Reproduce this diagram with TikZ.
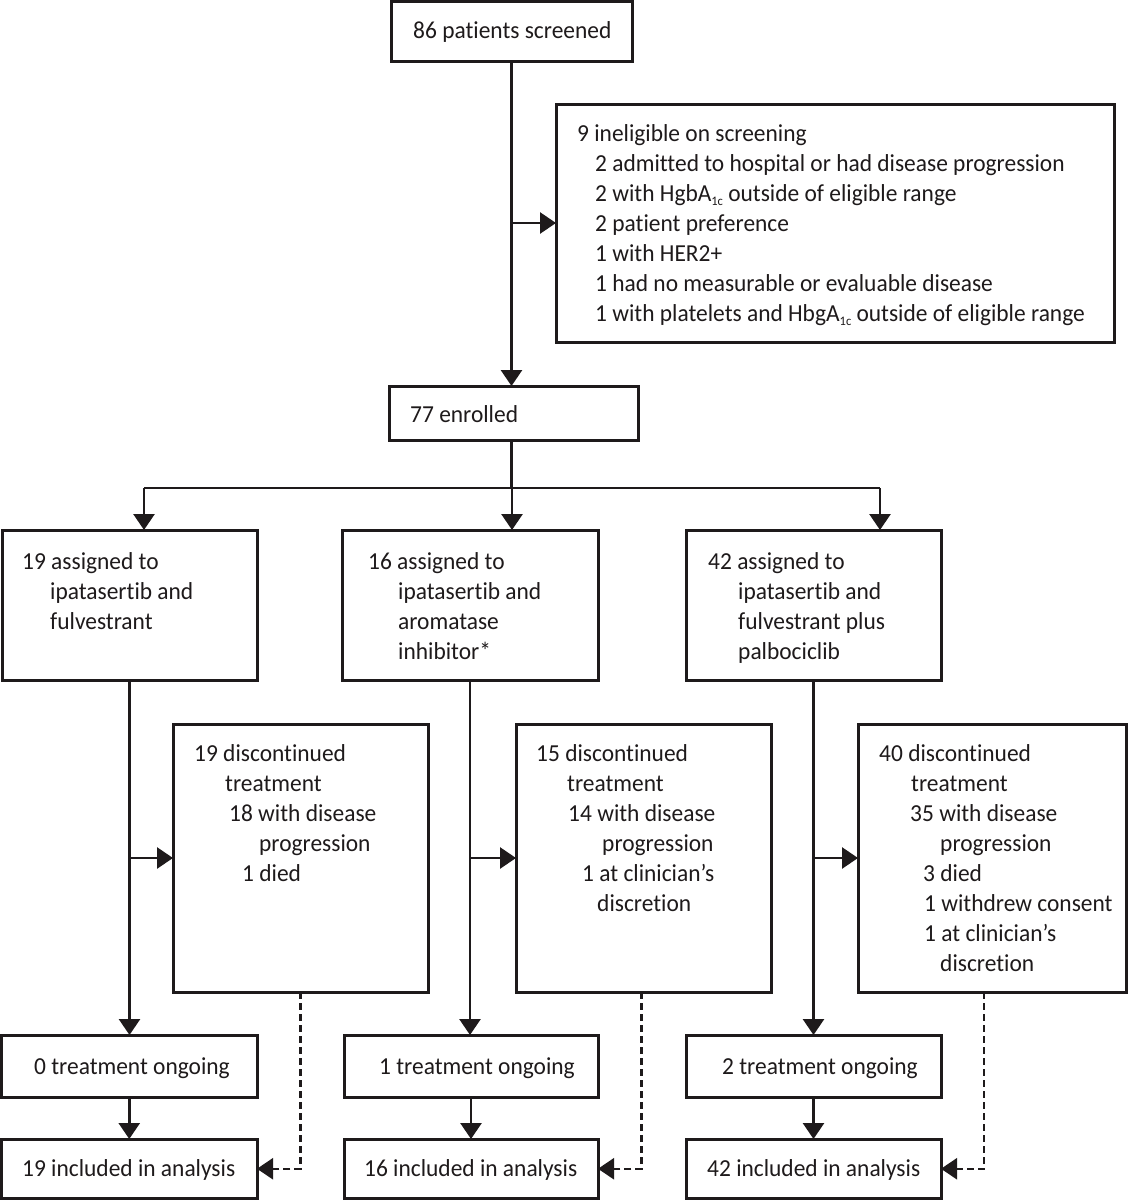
\documentclass[tikz,border=0pt]{standalone}
\usepackage{fontspec}
\setmainfont{Carlito}[FakeStretch=0.96,Ligatures=NoCommon]
\usetikzlibrary{arrows.meta,calc}
\definecolor{ink}{HTML}{1E1A1B}
\newcommand\mkbox[5]{\node[bx, minimum width={(#4)-(#2)}, minimum height={(#5)-(#3)}] (#1) at (#2,#3) {};}
\newcommand\lns[1]{\begin{tabular}[t]{@{}l@{}}#1\end{tabular}}
\newcommand\sbx[1]{\raisebox{-4pt}{\fontsize{13}{13}\selectfont #1}}
\newcommand\ind[1]{\hspace*{#1pt}}
\tikzset{
  bx/.style={draw=ink, line width=3pt, inner sep=0pt, outer sep=0pt, anchor=north west},
  ln/.style={draw=ink, line width=2.7pt},
  arr/.style={ln, -{Triangle[length=16pt,width=21pt]}},
  dsh/.style={ln, line width=2.4pt, dash pattern=on 7pt off 4pt, -{Triangle[length=16pt,width=21pt]}},
  tx/.style={anchor=base west, inner sep=0pt, text=ink, font=\fontsize{24.4}{30}\selectfont},
}
\begin{document}
\begin{tikzpicture}[x=1pt,y=-1pt]
\fill[white] (0,0) rectangle (1128,1200);
\useasboundingbox (0,0) rectangle (1128,1200);
% boxes
\mkbox{top}{391}{1.5}{632}{61}
\mkbox{inel}{556}{104}{1114}{342}
\mkbox{enr}{389}{386}{638}{440}
\mkbox{a1}{2}{530}{257}{680}
\mkbox{a2}{342}{530}{598}{680}
\mkbox{a3}{686}{530}{941}{680}
\mkbox{d1}{173}{724}{428}{992}
\mkbox{d2}{516}{724}{771}{992}
\mkbox{d3}{858}{724}{1126}{992}
\mkbox{t1}{1.5}{1035}{257}{1097}
\mkbox{t2}{344}{1035}{598}{1097}
\mkbox{t3}{686}{1035}{941}{1097}
\mkbox{i1}{1.5}{1139}{257}{1198.5}
\mkbox{i2}{344}{1139}{598}{1198.5}
\mkbox{i3}{686}{1139}{941}{1198.5}
% texts
\node[tx] (ttop) at (413,38) {86 patients screened};
\node[tx] (tinel) at (577,141) {\lns{9 ineligible on screening\\
\ind{18}2 admitted to hospital or had disease progression\\
\ind{18}2 with HgbA\sbx{1c} outside of eligible range\\
\ind{18}2 patient preference\\
\ind{18}1 with HER2+\\
\ind{18}1 had no measurable or evaluable disease\\
\ind{18}1 with platelets and HbgA\sbx{1c} outside of eligible range}};
\node[tx] (tenr) at (410,422) {77 enrolled};
\node[tx] (ta1) at (22,569) {\lns{19 assigned to\\ \ind{28}ipatasertib and\\ \ind{28}fulvestrant}};
\node[tx] (ta2) at (368,569) {\lns{16 assigned to\\ \ind{30}ipatasertib and\\ \ind{30}aromatase\\ \ind{30}inhibitor*}};
\node[tx] (ta3) at (708,569) {\lns{42 assigned to\\ \ind{30}ipatasertib and\\ \ind{30}fulvestrant plus\\ \ind{30}palbociclib}};
\node[tx] (td1) at (194,761) {\lns{19 discontinued\\ \ind{31}treatment\\ \ind{35}18 with disease\\ \ind{65}progression\\ \ind{48}1 died}};
\node[tx] (td2) at (536,761) {\lns{15 discontinued\\ \ind{31}treatment\\ \ind{32}14 with disease\\ \ind{66}progression\\ \ind{46}1 at clinician’s\\ \ind{61}discretion}};
\node[tx] (td3) at (879,761) {\lns{40 discontinued\\ \ind{32}treatment\\ \ind{31}35 with disease\\ \ind{61}progression\\ \ind{44}3 died\\ \ind{45}1 withdrew consent\\ \ind{45}1 at clinician’s\\ \ind{61}discretion}};
\node[tx] (tt1) at (34,1074) {0 treatment ongoing};
\node[tx] (tt2) at (379,1074) {1 treatment ongoing};
\node[tx] (tt3) at (722,1074) {2 treatment ongoing};
\node[tx] (ti1) at (22,1176) {19 included in analysis};
\node[tx] (ti2) at (364,1176) {16 included in analysis};
\node[tx] (ti3) at (707,1176) {42 included in analysis};
% connectors
\draw[arr] (top.south) -- (top.south |- enr.north);
\draw[arr] (top.south |- inel.west) -- (inel.west);
\coordinate (sp) at (512,488);
\coordinate (c1) at (144,488);
\coordinate (c3) at (880,488);
\draw[ln] (top.south |- enr.south) -- (top.south |- sp);
\draw[ln] (c1) -- (c3);
\draw[arr] (sp) -- (sp |- a2.north);
\draw[arr] (c1) -- (c1 |- a1.north);
\draw[arr] (c3) -- (c3 |- a3.north);
\foreach \k in {1,2,3}{
  \draw[arr] (a\k.south) -- (a\k.south |- t\k.north);
  \draw[arr] (a\k.south |- d\k.west) -- (d\k.west);
  \draw[arr] (t\k.south) -- (t\k.south |- i\k.north);
}
\draw[dsh] (d1.south) |- (i1.east);
\draw[dsh] ($(d2.south)+(-2,0)$) |- (i2.east);
\draw[dsh] ($(d3.south)+(-8,0)$) |- (i3.east);
\end{tikzpicture}
\end{document}
